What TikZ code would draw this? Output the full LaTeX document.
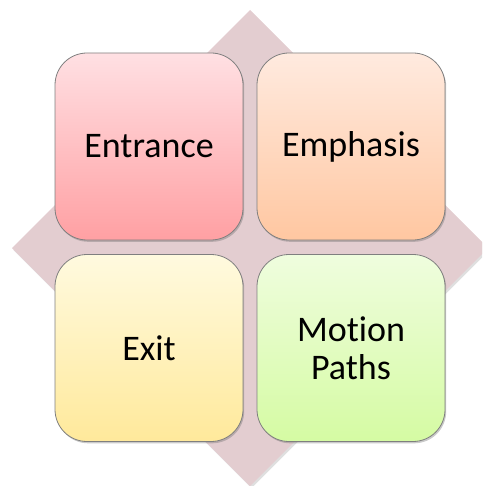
\documentclass[tikz,border=0pt]{standalone}
\usepackage{fontspec}
\setmainfont{Carlito}[RawFeature={-liga}]
\usetikzlibrary{shadows}
\definecolor{diam}{HTML}{E3CDD0}
\definecolor{enT}{HTML}{FFE0E3}
\definecolor{enB}{HTML}{FFA0A3}
\definecolor{emT}{HTML}{FFEADF}
\definecolor{emB}{HTML}{FFC7A1}
\definecolor{exT}{HTML}{FFFADF}
\definecolor{exB}{HTML}{FFE99B}
\definecolor{moT}{HTML}{EFFDDE}
\definecolor{moB}{HTML}{D5FBA3}
\definecolor{edge}{HTML}{7F7F7F}
\tikzset{
  tile/.style={rectangle, rounded corners=32pt, minimum width=188pt, minimum height=187pt,
    draw=edge, line width=0.8pt, align=center, inner sep=0pt,
    font=\fontsize{36}{38}\selectfont,
    drop shadow={shadow xshift=1.2pt, shadow yshift=-1.8pt, opacity=0.35, fill=black!60}}
}
\begin{document}
\begin{tikzpicture}[x=1pt,y=-1pt]
\useasboundingbox (0,0) rectangle (482,486);
\begin{scope}
\clip (0,0) rectangle (482,486);
\fill[black!25, opacity=0.5] (251.5,12) -- (489.5,250) -- (251.5,488) -- (13.5,250) -- cycle;
\fill[diam] (250,10) -- (488,248) -- (250,486) -- (12,248) -- cycle;
\end{scope}
\node[tile, top color=enT, bottom color=enB] (entrance) at (149,146.5) {Entrance};
\node[tile, top color=emT, bottom color=emB] (emphasis) at (351,146.5) {Emphasis};
\node[tile, top color=exT, bottom color=exB] (exit) at (149,348) {Exit};
\node[tile, top color=moT, bottom color=moB] (motion) at (351,348) {Motion\\Paths};
\end{tikzpicture}
\end{document}
